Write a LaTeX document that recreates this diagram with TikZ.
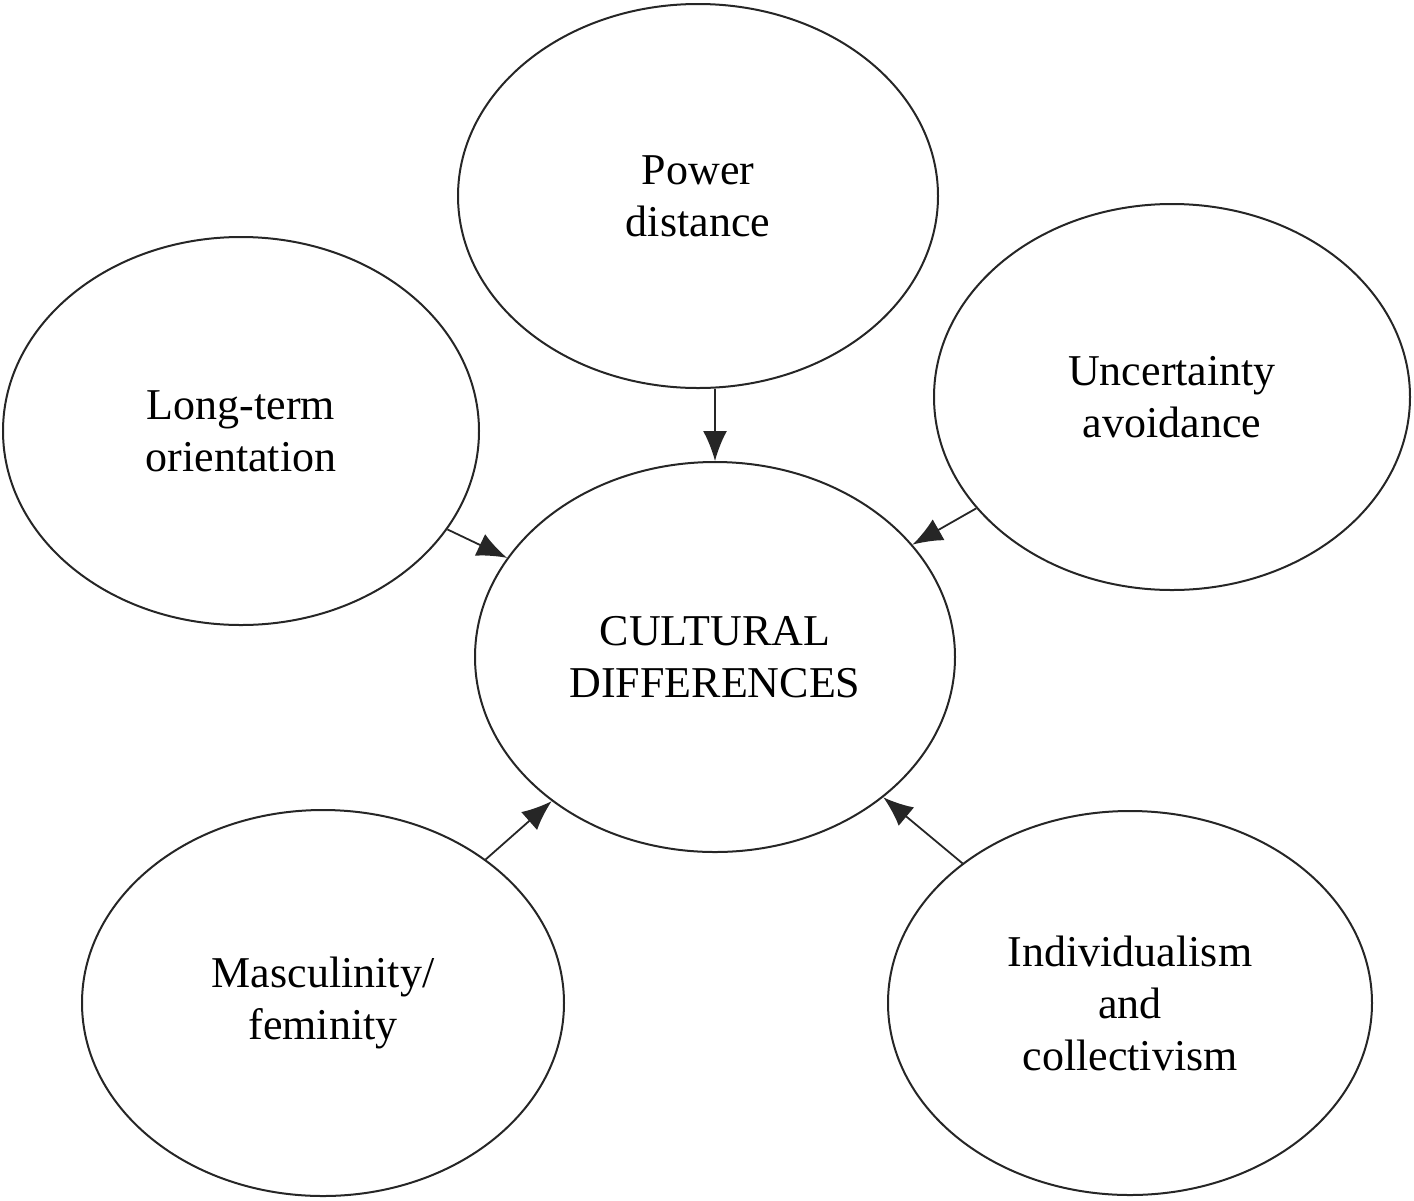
\documentclass[tikz,border=0pt]{standalone}
\usepackage{fontspec}
\setmainfont{Liberation Serif}
\usetikzlibrary{shapes.geometric,arrows.meta}
\begin{document}
\begin{tikzpicture}[x=0.5pt,y=-0.5pt,
  ell/.style={ellipse,draw=black!85,line width=1pt,inner sep=0pt,align=center,
    font=\fontsize{22}{26}\selectfont},
  arr/.style={-{Latex[length=15pt,width=12pt]},line width=0.9pt,black!85}]
\useasboundingbox (0,0) rectangle (1414,1200);
\node[ell,minimum width=480pt*0.5,minimum height=384pt*0.5] (pd) at (698,196) {Power\\distance};
\node[ell,minimum width=476pt*0.5,minimum height=388pt*0.5] (lt) at (241,431) {Long-term\\orientation};
\node[ell,minimum width=476pt*0.5,minimum height=386pt*0.5] (ua) at (1172,397) {Uncertainty\\avoidance};
\node[ell,minimum width=480pt*0.5,minimum height=390pt*0.5] (cd) at (715,657) {CULTURAL\\DIFFERENCES};
\node[ell,minimum width=482pt*0.5,minimum height=386pt*0.5] (mf) at (323,1003) {Masculinity/\\feminity};
\node[ell,minimum width=484pt*0.5,minimum height=384pt*0.5] (ic) at (1130,1003) {Individualism\\and\\collectivism};
\draw[arr] (pd.south -| cd.north) -- (cd.north);
\draw[arr] (lt) -- (cd);
\draw[arr] (ua) -- (cd);
\draw[arr] (mf) -- (cd);
\draw[arr] (ic) -- (cd);
\end{tikzpicture}
\end{document}
